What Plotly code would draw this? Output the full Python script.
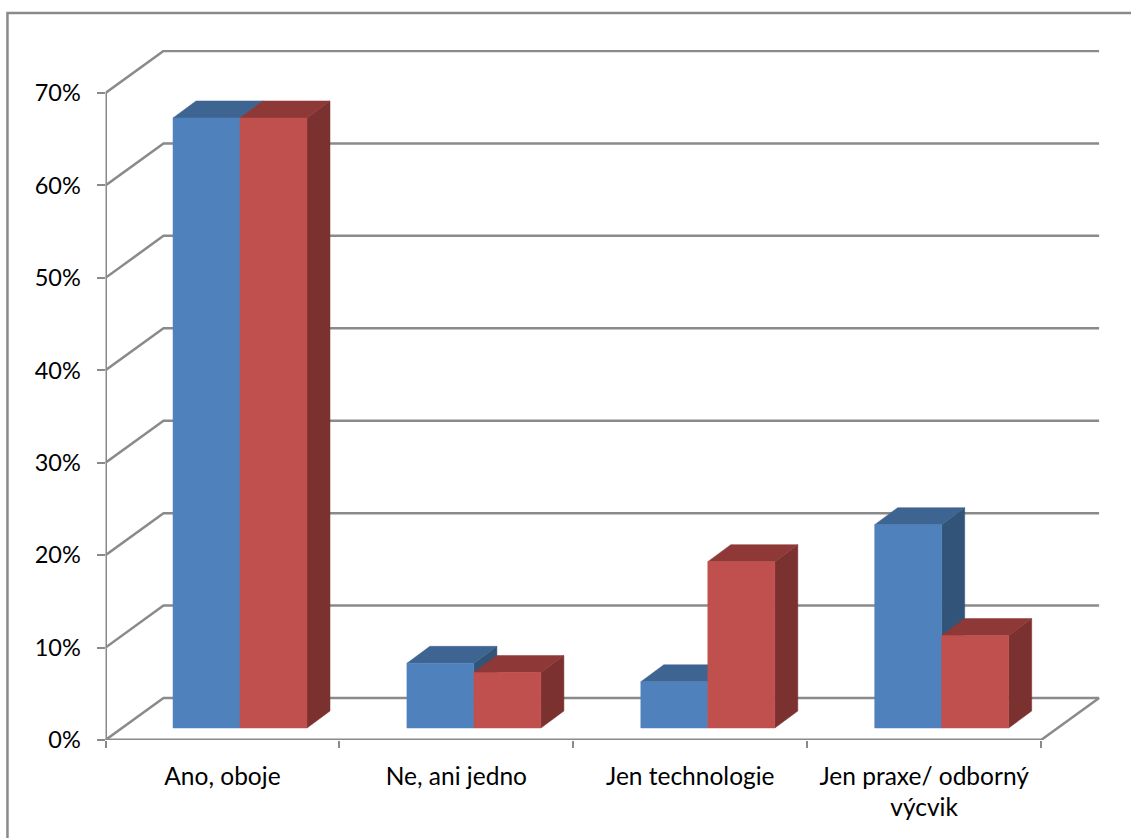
import plotly.graph_objects as go

categories = ["Ano, oboje", "Ne, ani jedno", "Jen technologie", "Jen praxe/ odborný<br>výcvik"]
series_a = [66, 7, 5, 22]
series_b = [66, 6, 18, 10]
y_ticks = [0, 10, 20, 30, 40, 50, 60, 70]
y_labels = ["0%", "10%", "20%", "30%", "40%", "50%", "60%", "70%"]

GRID = "#8A8A8A"
FONT_Y = dict(family="Lato", size=23.5, color="#000000")
FONT_X = dict(family="Lato", size=24.5, color="#000000")
W, H = 1131, 838

# axis units: one category wide, percent high
UNIT_X = 233.9
UNIT_Y = 9.243
WALL_DX = 58 / UNIT_X
WALL_DY = 42 / UNIT_Y
BAR_DX = 23 / UNIT_X
BAR_DY = 17 / UNIT_Y
BAR_LIFT = 12 / UNIT_Y
BAR_LEFT = 67.5 / UNIT_X
BAR_W = 67 / UNIT_X


def poly(xs, ys, color):
    return go.Scatter(x=xs, y=ys, mode="lines", fill="toself", fillcolor=color,
                      line=dict(width=0.5, color=color), hoverinfo="skip",
                      showlegend=False, cliponaxis=False)


def bar_faces(left, value, front, top, side):
    right = left + BAR_W
    low = BAR_LIFT
    high = BAR_LIFT + value
    return [
        poly([right, right + BAR_DX, right + BAR_DX, right, right],
             [low, low + BAR_DY, high + BAR_DY, high, low], side),
        poly([left, left + BAR_DX, right + BAR_DX, right, left],
             [high, high + BAR_DY, high + BAR_DY, high, high], top),
        poly([left, right, right, left, left], [low, low, high, high, low], front),
    ]


# walls
grid_x, grid_y = [], []
for v in y_ticks:
    grid_x += [0, WALL_DX, len(categories) + WALL_DX, None]
    grid_y += [v, v + WALL_DY, v + WALL_DY, None]
grid_x += [len(categories), len(categories) + WALL_DX]
grid_y += [0, WALL_DY]

fig = go.Figure()
fig.add_trace(go.Scatter(x=grid_x, y=grid_y, mode="lines", line=dict(color=GRID, width=2.5),
                         hoverinfo="skip", showlegend=False, cliponaxis=False))
fig.add_trace(go.Scatter(x=[0, 0, len(categories)], y=[y_ticks[-1], 0, 0], mode="lines",
                         line=dict(color=GRID, width=3), hoverinfo="skip",
                         showlegend=False, cliponaxis=False))

for i in range(len(categories)):
    left = i + BAR_LEFT
    for t in bar_faces(left, series_a[i], "#4F81BD", "#3E6491", "#315478"):
        fig.add_trace(t)
    for t in bar_faces(left + BAR_W, series_b[i], "#C0504D", "#8E3937", "#7B312F"):
        fig.add_trace(t)

fig.update_layout(
    width=W, height=H,
    margin=dict(l=0, r=0, t=0, b=0),
    paper_bgcolor="white", plot_bgcolor="white",
    xaxis=dict(domain=[105.5 / W, 1100 / W], range=[0, (1100 - 105.5) / UNIT_X],
               automargin=False,
               tickmode="array", tickvals=[i + 0.5 for i in range(len(categories))],
               ticktext=categories, ticks="", ticklen=0, ticklabelstandoff=19,
               showgrid=False, zeroline=False, showline=False, tickfont=FONT_X, tickangle=0,
               minor=dict(tickmode="array", tickvals=list(range(len(categories) + 1)),
                          ticks="outside", ticklen=7, tickwidth=2, tickcolor=GRID, showgrid=False)),
    yaxis=dict(domain=[(H - 740) / H, (H - 50) / H], range=[0, (740 - 50) / UNIT_Y],
               automargin=False,
               tickmode="array", tickvals=y_ticks, ticktext=y_labels,
               ticks="outside", ticklen=8, tickwidth=2, tickcolor=GRID, ticklabelstandoff=11,
               showgrid=False, zeroline=False, showline=False, tickfont=FONT_Y),
    shapes=[dict(type="path", xref="paper", yref="paper",
                 path=f"M 0.0066,0 L 0.0066,{1 - 13 / H} L 1,{1 - 13 / H}",
                 line=dict(color=GRID, width=2.5))],
)

fig.write_html("out.html", config=dict(displayModeBar=False),
               post_script="document.body.style.margin='0';")
